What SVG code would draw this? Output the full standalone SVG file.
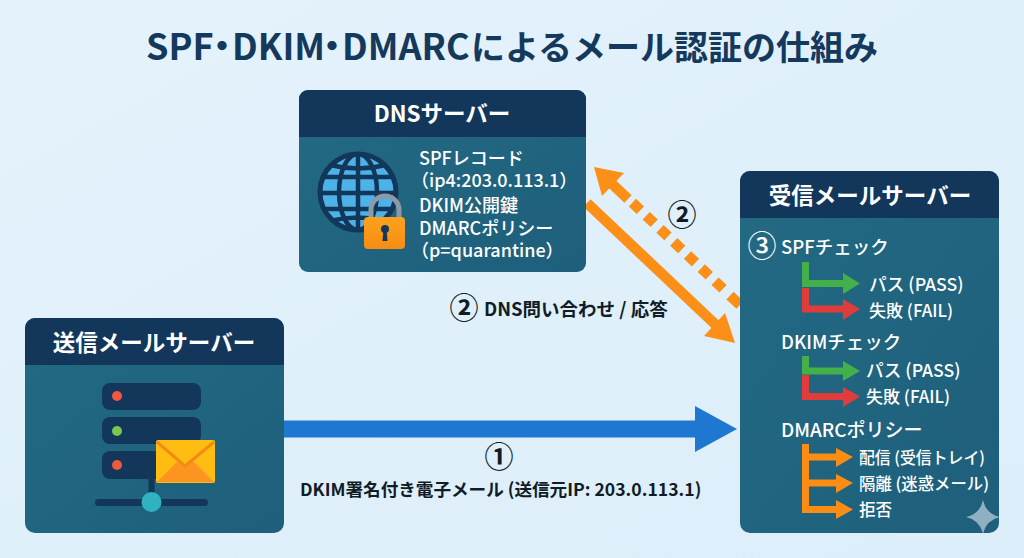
<svg xmlns="http://www.w3.org/2000/svg" width="1024" height="558" viewBox="0 0 1024 558">
<style>
text{font-family:"Noto Sans CJK JP","Noto Sans",sans-serif;font-weight:700}
.hd{font-size:22.5px;fill:#fff;text-anchor:middle}
.w{fill:#fff;font-weight:500;font-size:18px}
.s{font-size:17px}
.m{font-size:16.500px}
.p{font-size:17.700px}
.chk{fill:#fff;font-size:18.500px;font-weight:500}
.lb{fill:#111c26;font-weight:700}
.num{fill:#111c26;font-size:29px;font-weight:700;text-anchor:middle}
.dot{font-feature-settings:"palt"}
.head{fill:#12375a}
.body{fill:url(#card)}
.g{fill:none;stroke:#43b04a;stroke-width:7}
.r{fill:none;stroke:#e03c3c;stroke-width:7}
.o{fill:none;stroke:#fb8c14;stroke-width:7}
</style>
<defs>
<linearGradient id="bg" x1="0" y1="0" x2="1" y2="1"><stop offset="0" stop-color="#e4f2fb"/><stop offset="1" stop-color="#dceefa"/></linearGradient>
<linearGradient id="card" x1="0" y1="0" x2="1" y2="1"><stop offset="0" stop-color="#236a83"/><stop offset="1" stop-color="#1e5f7b"/></linearGradient>
<linearGradient id="lock" x1="0" y1="0" x2="0" y2="1"><stop offset="0" stop-color="#fca11f"/><stop offset="1" stop-color="#f78d12"/></linearGradient>
<clipPath id="globeClip"><circle cx="358" cy="192" r="38"/></clipPath>
<clipPath id="rcvClip"><rect x="740" y="171" width="259" height="362" rx="10"/></clipPath>
</defs>
<rect width="1024" height="558" fill="url(#bg)"/>
<text y="60" font-size="36" fill="#14395c"><tspan x="146">SPF</tspan><tspan class="dot" x="213">・</tspan><tspan x="232">DKIM</tspan><tspan class="dot" x="323">・</tspan><tspan x="342">DMARC</tspan><tspan x="471" font-size="34">によるメール認証の仕組み</tspan></text>

<g id="connectors">
<path d="M284 429H697" fill="none" stroke="#1e78d2" stroke-width="17"/>
<path d="M737 429L695 406V452Z" fill="#1e78d2"/>
<path d="M587 203L716 325" fill="none" stroke="#fb8f18" stroke-width="10.500"/>
<path d="M735 343L704 336L725 313Z" fill="#fb8f18"/>
<path d="M740 305L730 295.600" fill="none" stroke="#fb8f18" stroke-width="10.500"/>
<path d="M723 288.800L632.300 202.500" fill="none" stroke="#fb8f18" stroke-width="10.500" stroke-dasharray="11 8"/>
<path d="M628 199L610 182" fill="none" stroke="#fb8f18" stroke-width="10.500"/>
<path d="M594 167L624 173L602 196Z" fill="#fb8f18"/>
</g>

<g id="dns">
<rect class="body" x="299" y="90" width="287" height="182" rx="9"/>
<path class="head" d="M308 90H577a9 9 0 0 1 9 9V137H299V99a9 9 0 0 1 9-9Z"/>
<text class="hd" x="442" y="122">DNSサーバー</text>
<circle cx="358" cy="192" r="38" fill="#4db2e8"/>
<g clip-path="url(#globeClip)" fill="none" stroke="#12375a" stroke-width="4.500">
<ellipse cx="358" cy="192" rx="19" ry="38"/><path d="M358 154V230M320 177H396M320 193H396M320 209H396M330 165Q358 172 386 165M330 221Q358 214 386 221"/>
</g>
<circle cx="358" cy="192" r="38" fill="none" stroke="#12375a" stroke-width="5"/>
<path d="M371 218V210a14 14 0 0 1 28 0V218" fill="none" stroke="#8a9aa6" stroke-width="5"/>
<rect x="364" y="217" width="41" height="32" rx="4" fill="url(#lock)"/>
<circle cx="385" cy="229" r="4" fill="#12375a"/><path d="M383.500 229H386.500L387.500 241H382.500Z" fill="#12375a"/>
<text class="w" x="419" y="165">SPFレコード</text>
<text class="w" x="411" y="187">（ip4:203.0.113.1）</text>
<text class="w" x="419" y="212">DKIM公開鍵</text>
<text class="w" x="419" y="235">DMARCポリシー</text>
<text class="w" x="411" y="257">（p=quarantine）</text>
</g>

<g id="sender">
<rect class="body" x="25" y="318" width="259" height="215" rx="10"/>
<path class="head" d="M35 318H274a10 10 0 0 1 10 10V365H25V328a10 10 0 0 1 10-10Z"/>
<text class="hd" x="154" y="351">送信メールサーバー</text>
<g fill="#12375a">
<rect x="102" y="383" width="99" height="27" rx="8"/>
<rect x="102" y="417" width="99" height="27" rx="8"/>
<rect x="102" y="451" width="99" height="28" rx="8"/>
<rect x="148.500" y="478" width="6" height="24"/>
<rect x="95" y="499" width="113" height="7" rx="3.500"/>
</g>
<circle cx="117" cy="396" r="5" fill="#f2583e"/>
<circle cx="117" cy="431" r="5" fill="#78c850"/>
<circle cx="117" cy="465" r="5" fill="#f2583e"/>
<circle cx="151.500" cy="502" r="10" fill="#2fb3c0"/>
<rect x="156" y="440" width="59" height="43" rx="2" fill="#ffbd12"/>
<path d="M157 482L178 461L185 466L193 461L214 482Z" fill="#fb9420"/>
<path d="M157 442L185 466L214 442" fill="none" stroke="#f58a12" stroke-width="3"/>
</g>

<g id="receiver">
<rect class="body" x="740" y="171" width="259" height="362" rx="10"/>
<path class="head" d="M750 171H989a10 10 0 0 1 10 10V218H740V181a10 10 0 0 1 10-10Z"/>
<text class="hd" x="870" y="204">受信メールサーバー</text>
<text x="762" y="257" class="num" style="fill:#fff;font-weight:500">③</text>
<text class="chk" x="781" y="254">SPFチェック</text>
<path class="g" d="M805.500 262V283.500H846"/><path d="M860 283.500L843 273V294Z" fill="#43b04a"/>
<path class="r" d="M805.500 288V309H846"/><path d="M860 309L843 299V320Z" fill="#e03c3c"/>
<text class="w p" x="869" y="291">パス (PASS)</text>
<text class="w s" x="869" y="317">失敗 (FAIL)</text>
<text class="chk" x="781" y="349">DKIMチェック</text>
<path class="g" d="M805.500 356V371H846"/><path d="M860 371L843 361V381Z" fill="#43b04a"/>
<path class="r" d="M805.500 375V396.500H846"/><path d="M860 396.500L843 387V407Z" fill="#e03c3c"/>
<text class="w p" x="866" y="377">パス (PASS)</text>
<text class="w s" x="866" y="403">失敗 (FAIL)</text>
<text class="chk" x="781" y="437" style="font-size:19px">DMARCポリシー</text>
<path class="o" d="M805.500 444V509.500H840M805.500 457H840M805.500 483H840"/>
<path d="M853 457L836 448V467ZM853 483L836 474V493ZM853 509.500L836 500V519Z" fill="#fb8c14"/>
<text class="w m" x="859" y="464" textLength="126" lengthAdjust="spacingAndGlyphs">配信 (受信トレイ)</text>
<text class="w m" x="859" y="490" textLength="130" lengthAdjust="spacingAndGlyphs">隔離 (迷惑メール)</text>
<text class="w m" x="859" y="516">拒否</text>
<path clip-path="url(#rcvClip)" d="M983 500Q986 514 1000 517Q986 520 983 534Q980 520 966 517Q980 514 983 500Z" fill="#8fb0c2"/>
</g>

<g id="labels">
<text class="num" x="499" y="468">①</text>
<text class="lb" x="300" y="496" font-size="17.600">DKIM署名付き電子メール (送信元IP: 203.0.113.1)</text>
<text class="num" x="682" y="226">②</text>
<text class="num" x="464" y="319">②</text>
<text class="lb" x="484" y="316" font-size="18.500">DNS問い合わせ / 応答</text>
</g>
</svg>
